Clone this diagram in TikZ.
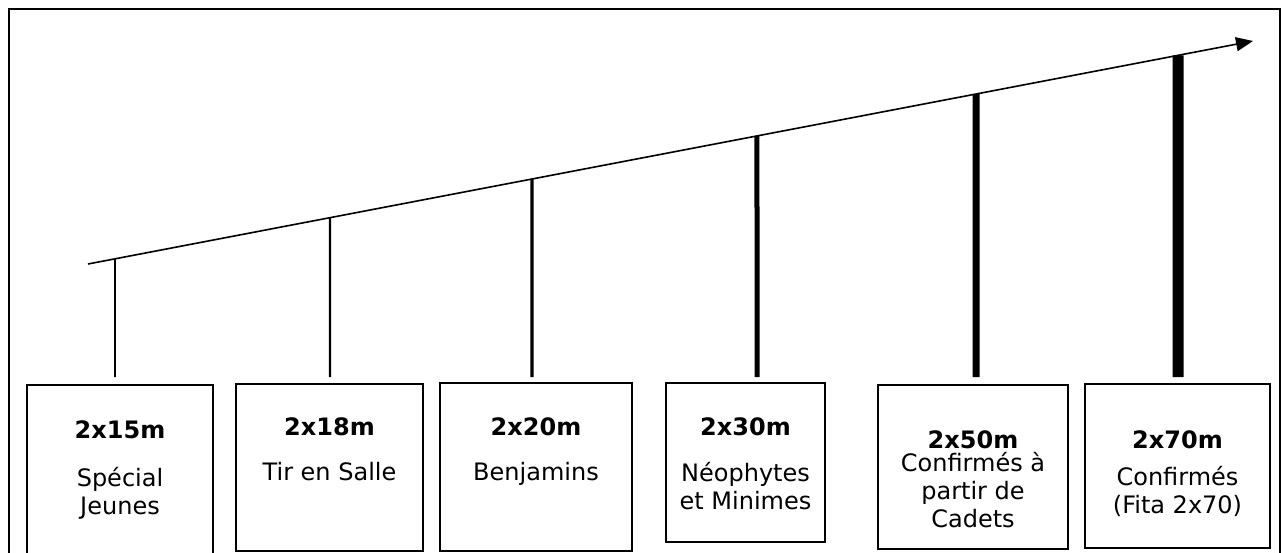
\documentclass[tikz,border=0pt]{standalone}
\usepackage{fontspec}
\setmainfont{DejaVu Sans}
\usetikzlibrary{arrows.meta, positioning, calc}

\begin{document}
\begin{tikzpicture}[x=1pt, y=-1pt,
		categ/.style={draw, line width=1.4pt, inner sep=0pt},
		categtext/.style={align=center, inner sep=0pt, font=\fontsize{24}{28}\selectfont},
		rise/.style={line cap=butt}]
		\clip (0,0) rectangle (1281,553);
		\draw[line width=2pt] (8.5,9) rectangle (1280,600);
		\coordinate (start) at (88,264);
		\coordinate (end) at (1253,41);
		\draw[line width=1.6pt, -{Triangle[length=17pt,width=14pt]}] (start) -- (end);
		\foreach[count=\i] \xl/\xr/\yt/\yb/\xv/\lw/\dy/\gap/\ttl/\desc in {
			27/213/385/600/115/1.6/36/20/{2x15m}/{Spécial\\Jeunes},
			236/423/384/551/330/2.2/34/17/{2x18m}/{Tir en Salle},
			440/632/383/551/532/3.2/35/17/{2x20m}/{Benjamins},
			666/825/383/542/757/5/35/18/{2x30m}/{Néophytes\\et Minimes},
			878/1068/385/549/976/7/46/-5/{2x50m}/{Confirmés à\\partir de\\Cadets},
			1085/1270/384/548/1178/11/47/9/{2x70m}/{Confirmés\\(Fita 2x70)}} {
			\pgfmathsetmacro\w{\xr-\xl}
			\pgfmathsetmacro\h{\yb-\yt}
			\pgfmathsetmacro\t{(\xv-88)/(1253-88)}
			\node[categ, minimum width=\w pt, minimum height=\h pt] (box\i) at ({(\xl+\xr)/2},{(\yt+\yb)/2}) {};
			\node[categtext, anchor=north, below=\dy pt of box\i.north] (lbl\i) {\textbf{\ttl}\\[\gap pt]\desc};
			\coordinate (top\i) at ($(start)!\t!(end)$);
			\coordinate (foot\i) at (\xv,377);
			\draw[rise, line width=\lw pt] (top\i) -- (foot\i);
		}
	\end{tikzpicture}
\end{document}
